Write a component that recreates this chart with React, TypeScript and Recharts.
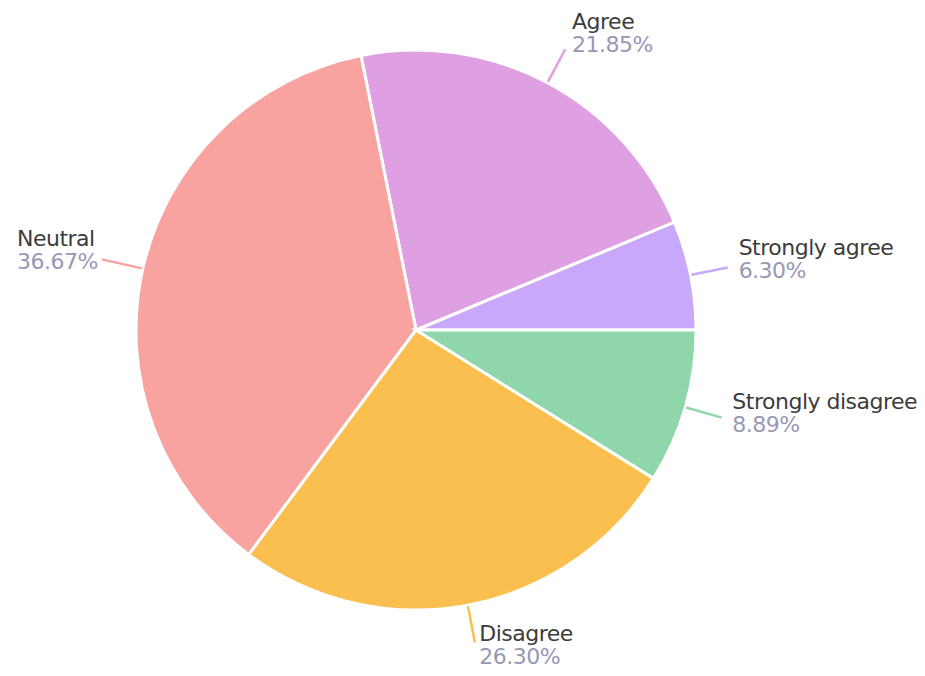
import React from "react";
import { PieChart, Pie, Cell } from "recharts";

// Survey response shares (percent)
const categories = ["Strongly agree", "Agree", "Neutral", "Disagree", "Strongly disagree"];
const shares = [6.3, 21.85, 36.67, 26.3, 8.89];
const colors = ["#c8a8fa", "#dfa0e3", "#f9a3a1", "#fbbf4f", "#8fd7aa"];

const data = categories.map((name, i) => ({ name, value: shares[i] }));

const RAD = Math.PI / 180;
const FONT = "'DejaVu Sans', Verdana, sans-serif";
const FONT_SIZE = 22;
const LETTER_SPACING = -0.5;

let ctx: CanvasRenderingContext2D | null = null;
function textWidth(s: string): number {
  if (!ctx) {
    const c = document.createElement("canvas");
    ctx = c.getContext("2d");
  }
  if (!ctx) return s.length * 12;
  ctx.font = `${FONT_SIZE}px ${FONT}`;
  return ctx.measureText(s).width + LETTER_SPACING * s.length;
}

const LINE_OUT = 38;

function renderLabelLine(props: any) {
  const { cx, cy, midAngle, outerRadius, index } = props;
  const cos = Math.cos(-midAngle * RAD);
  const sin = Math.sin(-midAngle * RAD);
  const out = cos < 0 ? LINE_OUT + 4 : LINE_OUT;
  const x1 = cx + (outerRadius + 1) * cos;
  const y1 = cy + (outerRadius + 1) * sin;
  const x2 = cx + (outerRadius + out) * cos;
  const y2 = cy + (outerRadius + out) * sin;
  return (
    <line x1={x1} y1={y1} x2={x2} y2={y2} stroke={colors[index]} strokeWidth={2.5} />
  );
}

function renderLabel(props: any) {
  const { cx, cy, midAngle, outerRadius, index } = props;
  const cos = Math.cos(-midAngle * RAD);
  const sinUp = Math.sin(midAngle * RAD);
  const right = cos >= 0;
  const out = right ? LINE_OUT : LINE_OUT + 4;
  const ex = cx + (outerRadius + out) * cos;
  const ey = cy + (outerRadius + out) * Math.sin(-midAngle * RAD);
  const name = categories[index];
  const pct = `${shares[index].toFixed(2)}%`;
  const blockW = Math.max(textWidth(name), textWidth(pct));
  const x = right ? ex + 3 + 8 * Math.abs(cos) : ex - 4 - blockW;
  const centerY = ey - 7 - 10 * sinUp;
  const common = {
    x,
    fontFamily: FONT,
    fontSize: FONT_SIZE,
    letterSpacing: LETTER_SPACING,
    dominantBaseline: "central" as const,
    textAnchor: "start" as const,
  };
  return (
    <g>
      <text {...common} y={centerY - 11.5} fill="#3c3c3c">
        {name}
      </text>
      <text {...common} y={centerY + 11.5} fill="#9898b4">
        {pct}
      </text>
    </g>
  );
}

export default function App() {
  return (
    <div style={{ width: 909, height: 668, marginBottom: -8 }}>
      <PieChart width={909} height={668} style={{ overflow: "visible" }}>
        <Pie
          data={data}
          dataKey="value"
          nameKey="name"
          cx={403}
          cy={317}
          outerRadius={280}
          startAngle={0}
          endAngle={360}
          stroke="#ffffff"
          strokeWidth={3}
          label={renderLabel}
          labelLine={renderLabelLine}
          isAnimationActive={false}
        >
          {data.map((d, i) => (
            <Cell key={d.name} fill={colors[i]} />
          ))}
        </Pie>
      </PieChart>
    </div>
  );
}
